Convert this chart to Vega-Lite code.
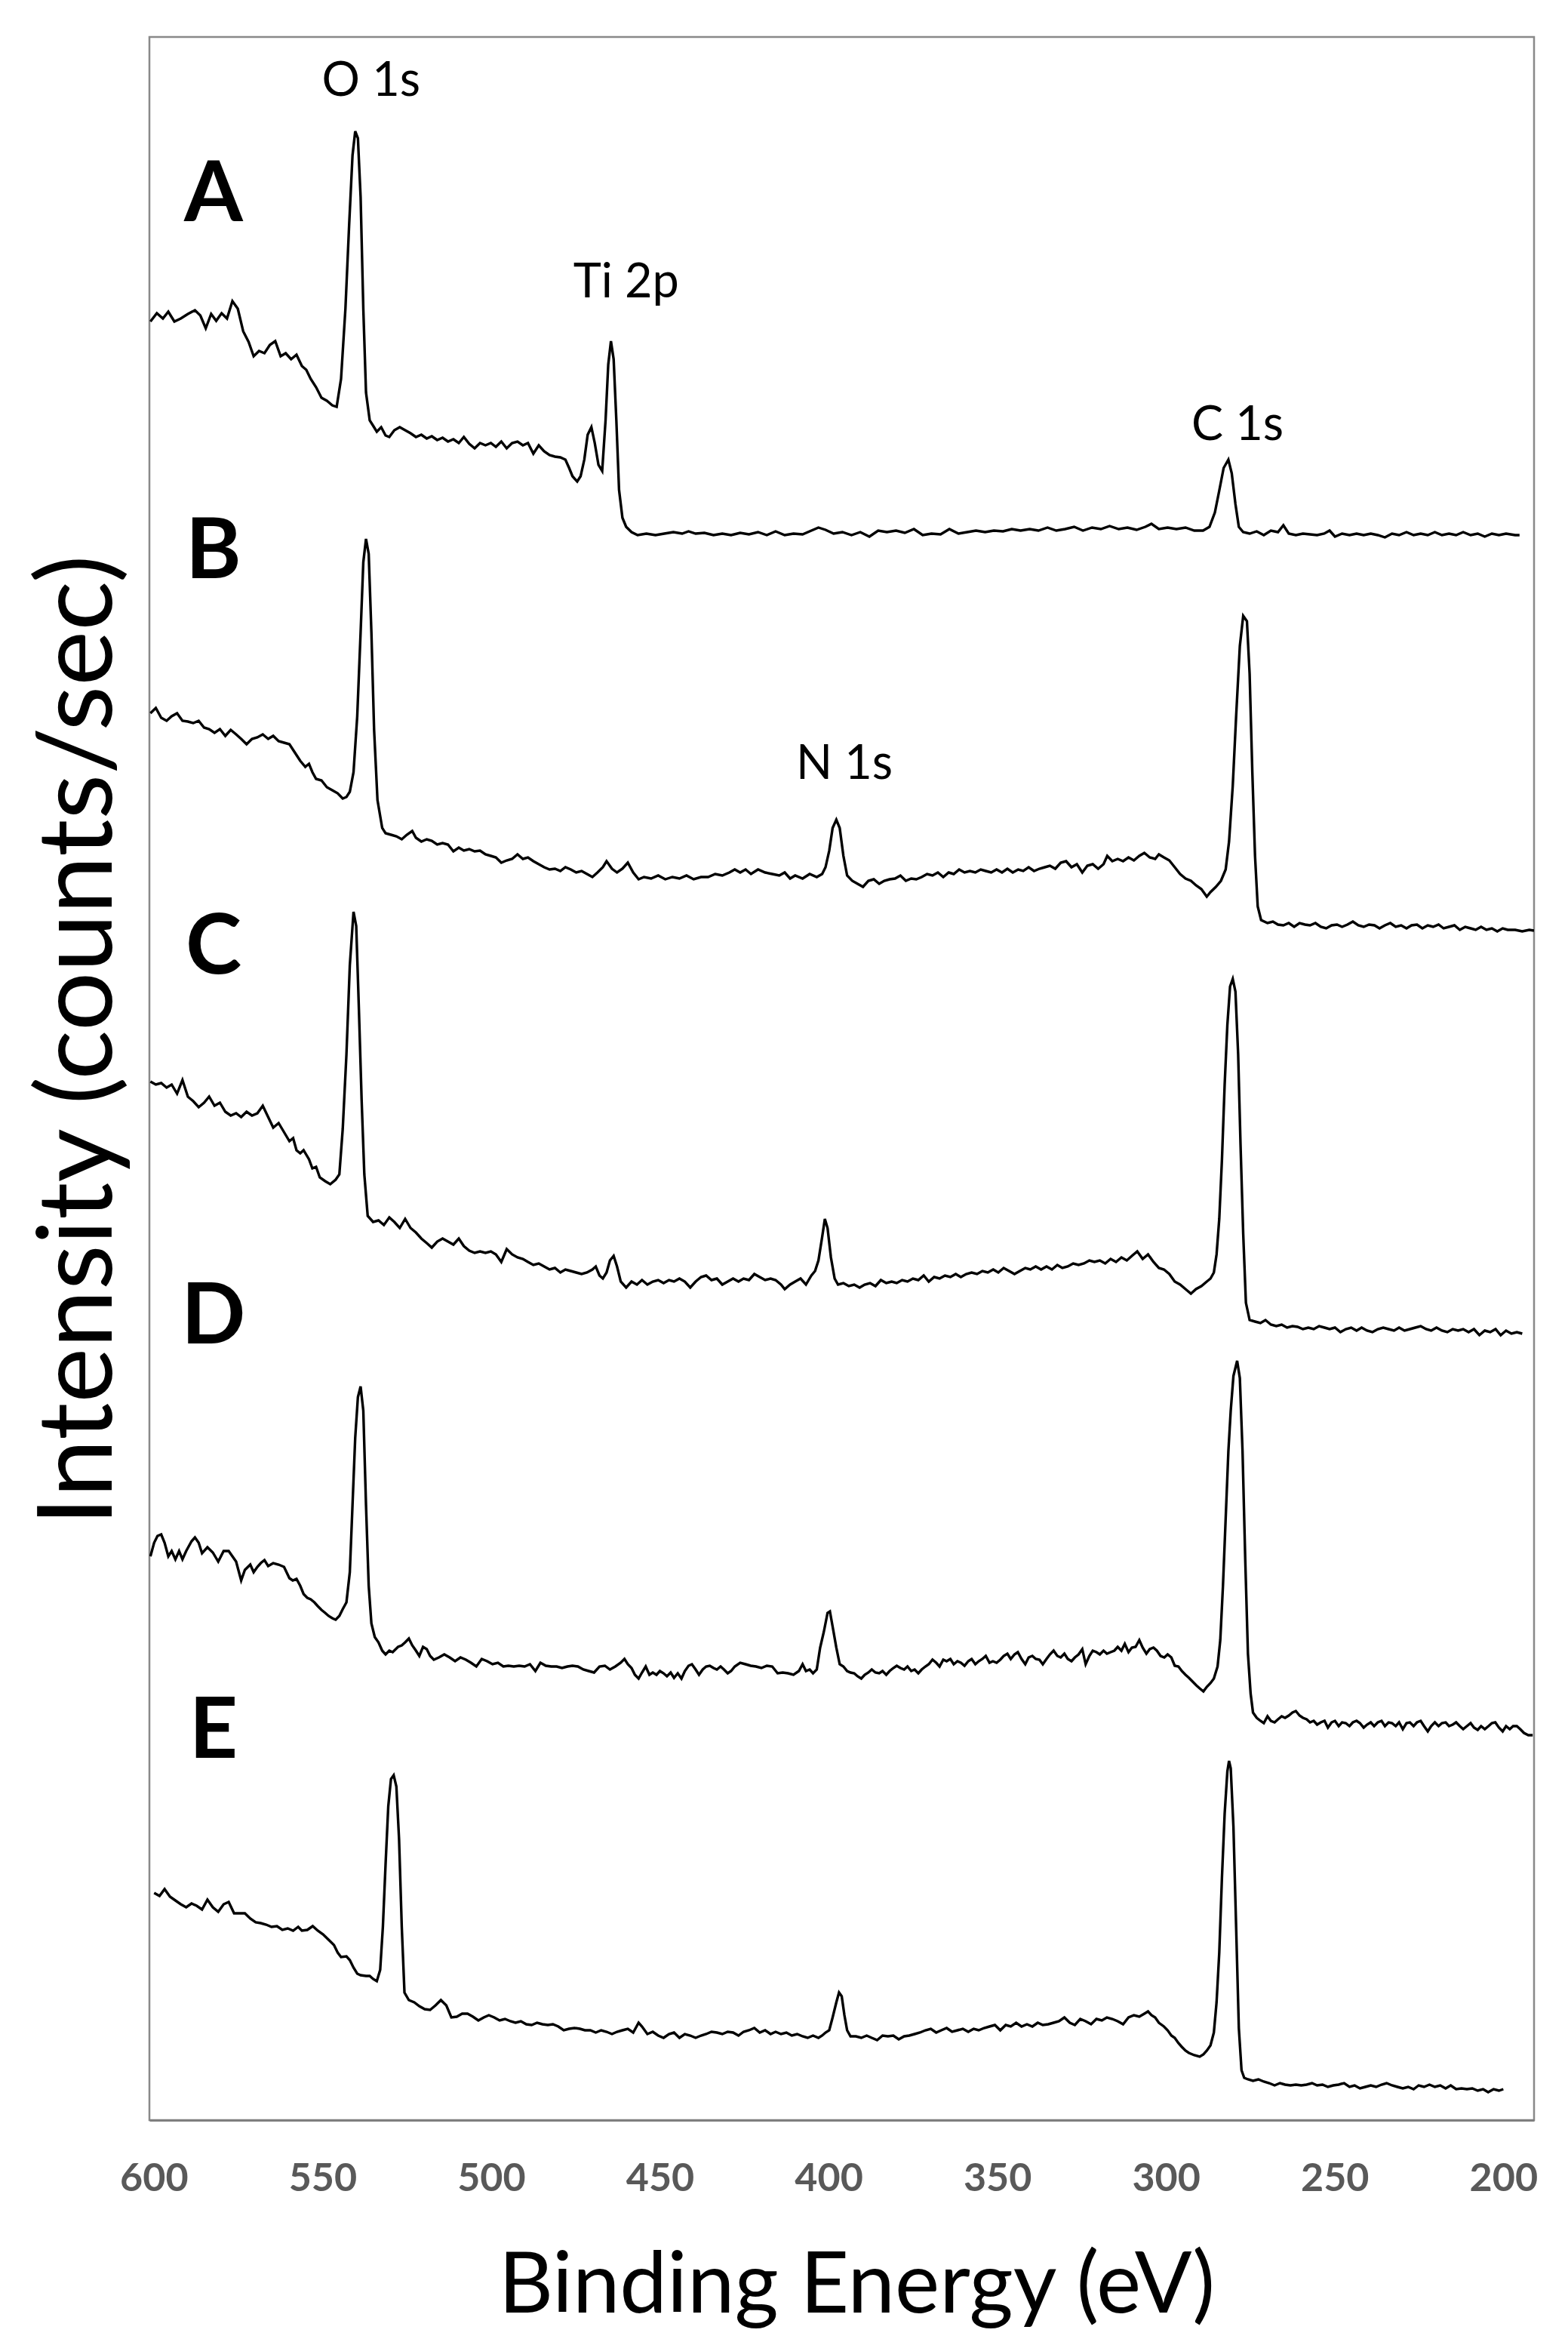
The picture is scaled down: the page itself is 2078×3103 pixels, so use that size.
{
"$schema":"https://vega.github.io/schema/vega-lite/v6.json",
"width":1835,"height":2760,
"autosize":{"type":"none"},
"padding":{"left":198,"top":49,"right":45,"bottom":294},
"background":"white",
"config":{"view":{"stroke":"#898989","strokeWidth":2.5},"font":"Lato"},
"datasets":{
"peaks":[{"t":"O 1s","e":535.6,"i":2679},{"t":"Ti 2p","e":460.0,"i":2412},{"t":"C 1s","e":278.8,"i":2223},{"t":"N 1s","e":395.3,"i":1774}],
"panels":[{"t":"A","e":582.3,"i":2513},{"t":"B","e":582.3,"i":2040},{"t":"C","e":582.3,"i":1516},{"t":"D","e":582.3,"i":1026},{"t":"E","e":582.3,"i":477}],
"spectra":[
{"s":"A","e":601.0,"i":2380},{"s":"A","e":599.1,"i":2391},{"s":"A","e":597.3,"i":2384},{"s":"A","e":595.7,"i":2393},{"s":"A","e":593.9,"i":2380},{"s":"A","e":592.0,"i":2384},{"s":"A","e":589.9,"i":2390},{"s":"A","e":587.8,"i":2395},{"s":"A","e":586.2,"i":2388},{"s":"A","e":584.6,"i":2371},{"s":"A","e":583.0,"i":2390},{"s":"A","e":581.5,"i":2381},{"s":"A","e":579.9,"i":2391},{"s":"A","e":578.3,"i":2384},{"s":"A","e":576.7,"i":2407},{"s":"A","e":575.1,"i":2397},{"s":"A","e":573.5,"i":2367},{"s":"A","e":571.9,"i":2353},{"s":"A","e":570.4,"i":2334},{"s":"A","e":568.8,"i":2341},{"s":"A","e":567.2,"i":2338},{"s":"A","e":565.6,"i":2349},{"s":"A","e":564.0,"i":2354},{"s":"A","e":562.4,"i":2334},{"s":"A","e":560.9,"i":2338},{"s":"A","e":559.3,"i":2330},{"s":"A","e":557.7,"i":2336},{"s":"A","e":556.1,"i":2321},{"s":"A","e":554.8,"i":2316},{"s":"A","e":553.5,"i":2304},{"s":"A","e":551.9,"i":2293},{"s":"A","e":550.3,"i":2279},{"s":"A","e":548.7,"i":2275},{"s":"A","e":547.1,"i":2269},{"s":"A","e":545.8,"i":2267},{"s":"A","e":544.5,"i":2304},{"s":"A","e":543.2,"i":2397},{"s":"A","e":542.1,"i":2508},{"s":"A","e":541.1,"i":2600},{"s":"A","e":540.3,"i":2632},{"s":"A","e":539.5,"i":2623},{"s":"A","e":538.7,"i":2545},{"s":"A","e":537.9,"i":2397},{"s":"A","e":537.1,"i":2286},{"s":"A","e":536.0,"i":2249},{"s":"A","e":535.0,"i":2242},{"s":"A","e":533.9,"i":2234},{"s":"A","e":532.6,"i":2240},{"s":"A","e":531.3,"i":2229},{"s":"A","e":530.2,"i":2227},{"s":"A","e":528.7,"i":2236},{"s":"A","e":527.1,"i":2240},{"s":"A","e":525.5,"i":2236},{"s":"A","e":523.9,"i":2232},{"s":"A","e":522.3,"i":2227},{"s":"A","e":520.7,"i":2230},{"s":"A","e":519.1,"i":2225},{"s":"A","e":517.6,"i":2228},{"s":"A","e":516.0,"i":2223},{"s":"A","e":514.4,"i":2226},{"s":"A","e":512.8,"i":2221},{"s":"A","e":511.2,"i":2224},{"s":"A","e":509.6,"i":2219},{"s":"A","e":508.1,"i":2227},{"s":"A","e":506.5,"i":2218},{"s":"A","e":504.9,"i":2212},{"s":"A","e":503.3,"i":2219},{"s":"A","e":501.7,"i":2216},{"s":"A","e":500.1,"i":2219},{"s":"A","e":498.6,"i":2214},{"s":"A","e":497.0,"i":2221},{"s":"A","e":495.4,"i":2212},{"s":"A","e":493.8,"i":2219},{"s":"A","e":492.2,"i":2221},{"s":"A","e":490.6,"i":2216},{"s":"A","e":489.1,"i":2219},{"s":"A","e":487.5,"i":2205},{"s":"A","e":485.9,"i":2216},{"s":"A","e":484.3,"i":2208},{"s":"A","e":482.7,"i":2203},{"s":"A","e":481.1,"i":2201},{"s":"A","e":479.5,"i":2200},{"s":"A","e":478.0,"i":2197},{"s":"A","e":476.9,"i":2186},{"s":"A","e":475.9,"i":2175},{"s":"A","e":474.5,"i":2168},{"s":"A","e":473.5,"i":2175},{"s":"A","e":472.4,"i":2197},{"s":"A","e":471.4,"i":2230},{"s":"A","e":470.3,"i":2240},{"s":"A","e":469.3,"i":2219},{"s":"A","e":468.2,"i":2190},{"s":"A","e":467.1,"i":2182},{"s":"A","e":466.1,"i":2249},{"s":"A","e":465.3,"i":2323},{"s":"A","e":464.5,"i":2354},{"s":"A","e":463.7,"i":2330},{"s":"A","e":462.9,"i":2249},{"s":"A","e":462.1,"i":2157},{"s":"A","e":461.1,"i":2120},{"s":"A","e":460.0,"i":2108},{"s":"A","e":458.4,"i":2101},{"s":"A","e":456.6,"i":2097},{"s":"A","e":454.0,"i":2099},{"s":"A","e":451.3,"i":2097},{"s":"A","e":448.7,"i":2099},{"s":"A","e":446.0,"i":2101},{"s":"A","e":443.4,"i":2099},{"s":"A","e":441.5,"i":2102},{"s":"A","e":439.4,"i":2099},{"s":"A","e":436.8,"i":2100},{"s":"A","e":434.1,"i":2097},{"s":"A","e":431.5,"i":2099},{"s":"A","e":428.9,"i":2097},{"s":"A","e":426.2,"i":2100},{"s":"A","e":423.6,"i":2098},{"s":"A","e":420.9,"i":2101},{"s":"A","e":418.3,"i":2097},{"s":"A","e":415.7,"i":2102},{"s":"A","e":413.0,"i":2097},{"s":"A","e":410.4,"i":2099},{"s":"A","e":407.7,"i":2098},{"s":"A","e":405.1,"i":2103},{"s":"A","e":403.0,"i":2107},{"s":"A","e":400.9,"i":2104},{"s":"A","e":398.5,"i":2099},{"s":"A","e":395.9,"i":2101},{"s":"A","e":393.2,"i":2097},{"s":"A","e":390.6,"i":2101},{"s":"A","e":387.9,"i":2095},{"s":"A","e":385.3,"i":2103},{"s":"A","e":382.7,"i":2101},{"s":"A","e":380.0,"i":2103},{"s":"A","e":377.4,"i":2100},{"s":"A","e":374.7,"i":2105},{"s":"A","e":372.1,"i":2097},{"s":"A","e":369.5,"i":2099},{"s":"A","e":366.8,"i":2098},{"s":"A","e":364.2,"i":2105},{"s":"A","e":361.5,"i":2099},{"s":"A","e":358.9,"i":2101},{"s":"A","e":356.3,"i":2103},{"s":"A","e":353.6,"i":2101},{"s":"A","e":351.0,"i":2103},{"s":"A","e":348.3,"i":2102},{"s":"A","e":345.7,"i":2105},{"s":"A","e":343.1,"i":2103},{"s":"A","e":340.4,"i":2105},{"s":"A","e":337.8,"i":2103},{"s":"A","e":335.1,"i":2107},{"s":"A","e":332.5,"i":2103},{"s":"A","e":329.9,"i":2105},{"s":"A","e":327.2,"i":2108},{"s":"A","e":324.6,"i":2103},{"s":"A","e":321.9,"i":2107},{"s":"A","e":319.3,"i":2105},{"s":"A","e":316.7,"i":2109},{"s":"A","e":314.0,"i":2105},{"s":"A","e":311.4,"i":2107},{"s":"A","e":308.7,"i":2104},{"s":"A","e":306.1,"i":2108},{"s":"A","e":304.3,"i":2112},{"s":"A","e":302.1,"i":2105},{"s":"A","e":299.5,"i":2107},{"s":"A","e":296.9,"i":2105},{"s":"A","e":294.2,"i":2107},{"s":"A","e":291.6,"i":2103},{"s":"A","e":289.0,"i":2103},{"s":"A","e":287.1,"i":2108},{"s":"A","e":285.5,"i":2127},{"s":"A","e":284.2,"i":2156},{"s":"A","e":282.9,"i":2186},{"s":"A","e":281.5,"i":2197},{"s":"A","e":280.5,"i":2179},{"s":"A","e":279.4,"i":2138},{"s":"A","e":278.4,"i":2108},{"s":"A","e":277.1,"i":2101},{"s":"A","e":275.2,"i":2099},{"s":"A","e":273.1,"i":2102},{"s":"A","e":271.0,"i":2097},{"s":"A","e":268.9,"i":2103},{"s":"A","e":266.8,"i":2101},{"s":"A","e":265.2,"i":2110},{"s":"A","e":263.6,"i":2099},{"s":"A","e":261.5,"i":2097},{"s":"A","e":259.4,"i":2099},{"s":"A","e":257.3,"i":2098},{"s":"A","e":255.2,"i":2097},{"s":"A","e":253.1,"i":2099},{"s":"A","e":251.5,"i":2103},{"s":"A","e":249.9,"i":2095},{"s":"A","e":247.8,"i":2099},{"s":"A","e":245.6,"i":2097},{"s":"A","e":243.5,"i":2099},{"s":"A","e":241.4,"i":2097},{"s":"A","e":239.3,"i":2099},{"s":"A","e":237.2,"i":2097},{"s":"A","e":235.1,"i":2094},{"s":"A","e":233.0,"i":2099},{"s":"A","e":230.9,"i":2097},{"s":"A","e":228.7,"i":2101},{"s":"A","e":226.6,"i":2097},{"s":"A","e":224.5,"i":2099},{"s":"A","e":222.4,"i":2097},{"s":"A","e":220.3,"i":2101},{"s":"A","e":218.2,"i":2097},{"s":"A","e":216.1,"i":2099},{"s":"A","e":214.0,"i":2097},{"s":"A","e":211.9,"i":2101},{"s":"A","e":209.7,"i":2097},{"s":"A","e":207.6,"i":2099},{"s":"A","e":205.5,"i":2095},{"s":"A","e":203.4,"i":2099},{"s":"A","e":201.3,"i":2097},{"s":"A","e":199.2,"i":2099},{"s":"A","e":196.5,"i":2097},{"s":"A","e":195.2,"i":2097},
{"s":"B","e":601.0,"i":1861},{"s":"B","e":599.4,"i":1868},{"s":"B","e":597.8,"i":1855},{"s":"B","e":596.2,"i":1851},{"s":"B","e":594.7,"i":1857},{"s":"B","e":593.1,"i":1861},{"s":"B","e":591.5,"i":1851},{"s":"B","e":589.9,"i":1850},{"s":"B","e":588.3,"i":1848},{"s":"B","e":586.7,"i":1851},{"s":"B","e":585.1,"i":1842},{"s":"B","e":583.6,"i":1840},{"s":"B","e":582.0,"i":1835},{"s":"B","e":580.4,"i":1840},{"s":"B","e":578.8,"i":1831},{"s":"B","e":577.2,"i":1839},{"s":"B","e":575.6,"i":1833},{"s":"B","e":574.1,"i":1827},{"s":"B","e":572.5,"i":1820},{"s":"B","e":570.9,"i":1827},{"s":"B","e":569.3,"i":1829},{"s":"B","e":567.7,"i":1833},{"s":"B","e":566.1,"i":1827},{"s":"B","e":564.6,"i":1831},{"s":"B","e":563.0,"i":1824},{"s":"B","e":561.4,"i":1822},{"s":"B","e":559.8,"i":1820},{"s":"B","e":558.2,"i":1809},{"s":"B","e":556.6,"i":1798},{"s":"B","e":555.1,"i":1790},{"s":"B","e":554.0,"i":1794},{"s":"B","e":553.0,"i":1783},{"s":"B","e":551.9,"i":1774},{"s":"B","e":550.3,"i":1772},{"s":"B","e":548.7,"i":1763},{"s":"B","e":547.1,"i":1759},{"s":"B","e":545.5,"i":1755},{"s":"B","e":544.0,"i":1748},{"s":"B","e":542.9,"i":1750},{"s":"B","e":541.9,"i":1757},{"s":"B","e":540.8,"i":1783},{"s":"B","e":539.7,"i":1857},{"s":"B","e":538.7,"i":1968},{"s":"B","e":537.9,"i":2061},{"s":"B","e":537.1,"i":2092},{"s":"B","e":536.3,"i":2072},{"s":"B","e":535.5,"i":1968},{"s":"B","e":534.7,"i":1839},{"s":"B","e":533.7,"i":1746},{"s":"B","e":532.3,"i":1709},{"s":"B","e":531.3,"i":1702},{"s":"B","e":529.7,"i":1700},{"s":"B","e":528.1,"i":1698},{"s":"B","e":526.5,"i":1694},{"s":"B","e":525.0,"i":1700},{"s":"B","e":523.4,"i":1705},{"s":"B","e":522.3,"i":1696},{"s":"B","e":520.7,"i":1691},{"s":"B","e":519.1,"i":1694},{"s":"B","e":517.6,"i":1692},{"s":"B","e":516.0,"i":1687},{"s":"B","e":514.4,"i":1689},{"s":"B","e":512.8,"i":1687},{"s":"B","e":511.2,"i":1678},{"s":"B","e":509.6,"i":1683},{"s":"B","e":508.1,"i":1679},{"s":"B","e":506.5,"i":1681},{"s":"B","e":504.9,"i":1678},{"s":"B","e":503.3,"i":1679},{"s":"B","e":501.7,"i":1674},{"s":"B","e":500.1,"i":1672},{"s":"B","e":498.6,"i":1670},{"s":"B","e":497.0,"i":1663},{"s":"B","e":495.4,"i":1666},{"s":"B","e":493.8,"i":1668},{"s":"B","e":492.2,"i":1674},{"s":"B","e":490.6,"i":1668},{"s":"B","e":489.1,"i":1670},{"s":"B","e":487.5,"i":1665},{"s":"B","e":485.9,"i":1661},{"s":"B","e":484.3,"i":1657},{"s":"B","e":482.7,"i":1654},{"s":"B","e":481.1,"i":1655},{"s":"B","e":479.5,"i":1652},{"s":"B","e":478.0,"i":1657},{"s":"B","e":476.4,"i":1654},{"s":"B","e":474.8,"i":1650},{"s":"B","e":473.2,"i":1652},{"s":"B","e":471.6,"i":1648},{"s":"B","e":470.0,"i":1644},{"s":"B","e":468.5,"i":1650},{"s":"B","e":466.9,"i":1657},{"s":"B","e":465.8,"i":1665},{"s":"B","e":464.2,"i":1655},{"s":"B","e":462.7,"i":1650},{"s":"B","e":461.1,"i":1655},{"s":"B","e":459.5,"i":1663},{"s":"B","e":457.9,"i":1650},{"s":"B","e":456.3,"i":1641},{"s":"B","e":454.7,"i":1644},{"s":"B","e":452.6,"i":1642},{"s":"B","e":450.5,"i":1646},{"s":"B","e":448.4,"i":1641},{"s":"B","e":446.3,"i":1644},{"s":"B","e":444.2,"i":1642},{"s":"B","e":442.1,"i":1646},{"s":"B","e":440.0,"i":1641},{"s":"B","e":437.8,"i":1644},{"s":"B","e":435.7,"i":1644},{"s":"B","e":433.6,"i":1648},{"s":"B","e":431.5,"i":1646},{"s":"B","e":429.4,"i":1650},{"s":"B","e":427.8,"i":1654},{"s":"B","e":426.2,"i":1650},{"s":"B","e":424.6,"i":1654},{"s":"B","e":423.0,"i":1648},{"s":"B","e":420.9,"i":1654},{"s":"B","e":418.8,"i":1650},{"s":"B","e":416.7,"i":1648},{"s":"B","e":414.6,"i":1646},{"s":"B","e":413.0,"i":1650},{"s":"B","e":411.4,"i":1642},{"s":"B","e":409.9,"i":1646},{"s":"B","e":407.7,"i":1642},{"s":"B","e":405.6,"i":1648},{"s":"B","e":403.5,"i":1644},{"s":"B","e":401.9,"i":1648},{"s":"B","e":400.9,"i":1657},{"s":"B","e":399.8,"i":1679},{"s":"B","e":398.8,"i":1709},{"s":"B","e":397.7,"i":1720},{"s":"B","e":396.7,"i":1709},{"s":"B","e":395.6,"i":1672},{"s":"B","e":394.5,"i":1646},{"s":"B","e":393.0,"i":1639},{"s":"B","e":391.4,"i":1635},{"s":"B","e":389.8,"i":1631},{"s":"B","e":388.2,"i":1639},{"s":"B","e":386.6,"i":1641},{"s":"B","e":385.0,"i":1635},{"s":"B","e":383.5,"i":1639},{"s":"B","e":381.9,"i":1641},{"s":"B","e":380.3,"i":1642},{"s":"B","e":378.7,"i":1646},{"s":"B","e":377.1,"i":1639},{"s":"B","e":375.5,"i":1642},{"s":"B","e":374.0,"i":1641},{"s":"B","e":372.4,"i":1644},{"s":"B","e":370.8,"i":1648},{"s":"B","e":369.2,"i":1646},{"s":"B","e":367.6,"i":1650},{"s":"B","e":366.0,"i":1644},{"s":"B","e":364.4,"i":1650},{"s":"B","e":362.9,"i":1648},{"s":"B","e":361.3,"i":1654},{"s":"B","e":359.7,"i":1650},{"s":"B","e":358.1,"i":1652},{"s":"B","e":356.5,"i":1650},{"s":"B","e":354.9,"i":1654},{"s":"B","e":353.4,"i":1652},{"s":"B","e":351.8,"i":1650},{"s":"B","e":350.2,"i":1654},{"s":"B","e":348.6,"i":1650},{"s":"B","e":347.0,"i":1655},{"s":"B","e":345.4,"i":1650},{"s":"B","e":343.8,"i":1654},{"s":"B","e":342.3,"i":1652},{"s":"B","e":340.7,"i":1657},{"s":"B","e":339.1,"i":1652},{"s":"B","e":337.5,"i":1655},{"s":"B","e":335.9,"i":1657},{"s":"B","e":334.4,"i":1659},{"s":"B","e":332.8,"i":1655},{"s":"B","e":331.2,"i":1663},{"s":"B","e":329.6,"i":1665},{"s":"B","e":328.0,"i":1657},{"s":"B","e":326.4,"i":1661},{"s":"B","e":324.8,"i":1650},{"s":"B","e":323.3,"i":1659},{"s":"B","e":321.7,"i":1661},{"s":"B","e":320.1,"i":1655},{"s":"B","e":318.5,"i":1661},{"s":"B","e":317.4,"i":1672},{"s":"B","e":315.9,"i":1665},{"s":"B","e":314.3,"i":1668},{"s":"B","e":312.7,"i":1665},{"s":"B","e":311.1,"i":1670},{"s":"B","e":309.5,"i":1666},{"s":"B","e":307.9,"i":1672},{"s":"B","e":306.4,"i":1676},{"s":"B","e":304.8,"i":1670},{"s":"B","e":303.2,"i":1668},{"s":"B","e":302.1,"i":1674},{"s":"B","e":300.6,"i":1670},{"s":"B","e":299.0,"i":1666},{"s":"B","e":297.4,"i":1657},{"s":"B","e":295.8,"i":1648},{"s":"B","e":294.2,"i":1642},{"s":"B","e":292.6,"i":1639},{"s":"B","e":291.1,"i":1633},{"s":"B","e":289.5,"i":1628},{"s":"B","e":287.9,"i":1618},{"s":"B","e":286.8,"i":1624},{"s":"B","e":285.2,"i":1631},{"s":"B","e":283.7,"i":1639},{"s":"B","e":282.3,"i":1654},{"s":"B","e":281.3,"i":1691},{"s":"B","e":280.2,"i":1765},{"s":"B","e":279.2,"i":1857},{"s":"B","e":278.1,"i":1950},{"s":"B","e":277.1,"i":1990},{"s":"B","e":276.0,"i":1983},{"s":"B","e":275.2,"i":1913},{"s":"B","e":274.4,"i":1783},{"s":"B","e":273.6,"i":1672},{"s":"B","e":272.8,"i":1605},{"s":"B","e":271.8,"i":1587},{"s":"B","e":269.9,"i":1583},{"s":"B","e":268.3,"i":1585},{"s":"B","e":266.8,"i":1581},{"s":"B","e":265.2,"i":1580},{"s":"B","e":263.6,"i":1583},{"s":"B","e":262.0,"i":1578},{"s":"B","e":260.4,"i":1583},{"s":"B","e":258.8,"i":1581},{"s":"B","e":257.3,"i":1580},{"s":"B","e":255.7,"i":1583},{"s":"B","e":254.1,"i":1578},{"s":"B","e":252.5,"i":1576},{"s":"B","e":250.9,"i":1580},{"s":"B","e":249.3,"i":1581},{"s":"B","e":247.8,"i":1578},{"s":"B","e":246.2,"i":1581},{"s":"B","e":244.6,"i":1585},{"s":"B","e":243.0,"i":1580},{"s":"B","e":241.4,"i":1578},{"s":"B","e":239.8,"i":1581},{"s":"B","e":238.2,"i":1580},{"s":"B","e":236.7,"i":1576},{"s":"B","e":235.1,"i":1580},{"s":"B","e":233.5,"i":1583},{"s":"B","e":231.9,"i":1578},{"s":"B","e":230.3,"i":1580},{"s":"B","e":228.7,"i":1576},{"s":"B","e":227.2,"i":1580},{"s":"B","e":225.6,"i":1581},{"s":"B","e":224.0,"i":1576},{"s":"B","e":222.4,"i":1580},{"s":"B","e":220.8,"i":1578},{"s":"B","e":219.2,"i":1581},{"s":"B","e":217.7,"i":1576},{"s":"B","e":216.1,"i":1578},{"s":"B","e":214.5,"i":1580},{"s":"B","e":212.9,"i":1574},{"s":"B","e":211.3,"i":1578},{"s":"B","e":209.7,"i":1576},{"s":"B","e":208.2,"i":1574},{"s":"B","e":206.6,"i":1578},{"s":"B","e":205.0,"i":1574},{"s":"B","e":203.4,"i":1576},{"s":"B","e":201.8,"i":1572},{"s":"B","e":200.2,"i":1576},{"s":"B","e":198.7,"i":1574},{"s":"B","e":196.5,"i":1574},{"s":"B","e":194.4,"i":1572},{"s":"B","e":192.3,"i":1574},{"s":"B","e":190.9,"i":1573},
{"s":"C","e":601.0,"i":1373},{"s":"C","e":599.4,"i":1369},{"s":"C","e":597.8,"i":1371},{"s":"C","e":596.2,"i":1365},{"s":"C","e":594.7,"i":1369},{"s":"C","e":593.1,"i":1357},{"s":"C","e":591.5,"i":1375},{"s":"C","e":589.9,"i":1353},{"s":"C","e":588.3,"i":1347},{"s":"C","e":586.7,"i":1339},{"s":"C","e":585.1,"i":1345},{"s":"C","e":583.6,"i":1353},{"s":"C","e":582.0,"i":1341},{"s":"C","e":580.4,"i":1345},{"s":"C","e":578.8,"i":1333},{"s":"C","e":577.2,"i":1328},{"s":"C","e":575.6,"i":1331},{"s":"C","e":574.1,"i":1326},{"s":"C","e":572.5,"i":1333},{"s":"C","e":570.9,"i":1328},{"s":"C","e":569.3,"i":1331},{"s":"C","e":567.7,"i":1341},{"s":"C","e":566.1,"i":1326},{"s":"C","e":564.6,"i":1312},{"s":"C","e":563.0,"i":1318},{"s":"C","e":561.4,"i":1306},{"s":"C","e":559.8,"i":1294},{"s":"C","e":558.7,"i":1298},{"s":"C","e":557.7,"i":1282},{"s":"C","e":556.6,"i":1278},{"s":"C","e":555.6,"i":1282},{"s":"C","e":554.0,"i":1270},{"s":"C","e":553.0,"i":1258},{"s":"C","e":551.9,"i":1260},{"s":"C","e":550.8,"i":1246},{"s":"C","e":549.2,"i":1241},{"s":"C","e":547.7,"i":1237},{"s":"C","e":546.1,"i":1243},{"s":"C","e":545.0,"i":1250},{"s":"C","e":544.0,"i":1310},{"s":"C","e":542.9,"i":1409},{"s":"C","e":541.9,"i":1527},{"s":"C","e":540.8,"i":1598},{"s":"C","e":540.0,"i":1579},{"s":"C","e":539.2,"i":1468},{"s":"C","e":538.4,"i":1349},{"s":"C","e":537.6,"i":1250},{"s":"C","e":536.6,"i":1195},{"s":"C","e":535.0,"i":1187},{"s":"C","e":533.4,"i":1189},{"s":"C","e":531.8,"i":1183},{"s":"C","e":530.2,"i":1193},{"s":"C","e":528.7,"i":1187},{"s":"C","e":527.1,"i":1179},{"s":"C","e":525.5,"i":1191},{"s":"C","e":523.9,"i":1179},{"s":"C","e":522.3,"i":1173},{"s":"C","e":520.7,"i":1165},{"s":"C","e":519.1,"i":1159},{"s":"C","e":517.6,"i":1153},{"s":"C","e":516.0,"i":1161},{"s":"C","e":514.4,"i":1165},{"s":"C","e":512.8,"i":1161},{"s":"C","e":511.2,"i":1157},{"s":"C","e":509.6,"i":1165},{"s":"C","e":508.1,"i":1155},{"s":"C","e":506.5,"i":1149},{"s":"C","e":504.9,"i":1146},{"s":"C","e":503.3,"i":1148},{"s":"C","e":501.7,"i":1146},{"s":"C","e":500.1,"i":1148},{"s":"C","e":498.6,"i":1144},{"s":"C","e":497.0,"i":1134},{"s":"C","e":495.4,"i":1151},{"s":"C","e":493.8,"i":1144},{"s":"C","e":492.2,"i":1140},{"s":"C","e":490.6,"i":1138},{"s":"C","e":489.1,"i":1134},{"s":"C","e":487.5,"i":1130},{"s":"C","e":485.9,"i":1132},{"s":"C","e":484.3,"i":1128},{"s":"C","e":482.7,"i":1124},{"s":"C","e":481.1,"i":1126},{"s":"C","e":479.5,"i":1120},{"s":"C","e":478.0,"i":1124},{"s":"C","e":476.4,"i":1122},{"s":"C","e":474.8,"i":1120},{"s":"C","e":473.2,"i":1118},{"s":"C","e":471.6,"i":1120},{"s":"C","e":470.0,"i":1124},{"s":"C","e":469.0,"i":1128},{"s":"C","e":467.9,"i":1116},{"s":"C","e":466.9,"i":1112},{"s":"C","e":465.8,"i":1120},{"s":"C","e":464.8,"i":1136},{"s":"C","e":463.7,"i":1142},{"s":"C","e":462.7,"i":1128},{"s":"C","e":461.6,"i":1108},{"s":"C","e":460.0,"i":1100},{"s":"C","e":458.4,"i":1108},{"s":"C","e":456.8,"i":1104},{"s":"C","e":455.3,"i":1110},{"s":"C","e":453.7,"i":1104},{"s":"C","e":452.1,"i":1108},{"s":"C","e":450.5,"i":1110},{"s":"C","e":448.9,"i":1106},{"s":"C","e":447.3,"i":1110},{"s":"C","e":445.8,"i":1108},{"s":"C","e":444.2,"i":1112},{"s":"C","e":442.6,"i":1108},{"s":"C","e":441.0,"i":1100},{"s":"C","e":439.4,"i":1108},{"s":"C","e":437.8,"i":1114},{"s":"C","e":436.3,"i":1116},{"s":"C","e":434.7,"i":1110},{"s":"C","e":433.1,"i":1112},{"s":"C","e":431.5,"i":1104},{"s":"C","e":429.9,"i":1108},{"s":"C","e":428.3,"i":1112},{"s":"C","e":426.7,"i":1108},{"s":"C","e":425.2,"i":1112},{"s":"C","e":423.6,"i":1110},{"s":"C","e":422.0,"i":1118},{"s":"C","e":420.4,"i":1114},{"s":"C","e":418.8,"i":1110},{"s":"C","e":417.2,"i":1112},{"s":"C","e":415.7,"i":1110},{"s":"C","e":414.1,"i":1104},{"s":"C","e":413.0,"i":1098},{"s":"C","e":411.4,"i":1104},{"s":"C","e":409.9,"i":1108},{"s":"C","e":408.3,"i":1112},{"s":"C","e":406.7,"i":1104},{"s":"C","e":405.1,"i":1116},{"s":"C","e":404.0,"i":1122},{"s":"C","e":403.0,"i":1136},{"s":"C","e":401.9,"i":1167},{"s":"C","e":401.1,"i":1191},{"s":"C","e":400.3,"i":1179},{"s":"C","e":399.3,"i":1140},{"s":"C","e":398.2,"i":1112},{"s":"C","e":397.2,"i":1104},{"s":"C","e":395.6,"i":1106},{"s":"C","e":394.0,"i":1102},{"s":"C","e":392.4,"i":1104},{"s":"C","e":390.8,"i":1100},{"s":"C","e":389.3,"i":1104},{"s":"C","e":387.7,"i":1106},{"s":"C","e":386.1,"i":1102},{"s":"C","e":384.5,"i":1110},{"s":"C","e":382.9,"i":1106},{"s":"C","e":381.3,"i":1108},{"s":"C","e":379.8,"i":1106},{"s":"C","e":378.2,"i":1110},{"s":"C","e":376.6,"i":1108},{"s":"C","e":375.0,"i":1112},{"s":"C","e":373.4,"i":1110},{"s":"C","e":371.8,"i":1116},{"s":"C","e":370.3,"i":1108},{"s":"C","e":368.7,"i":1114},{"s":"C","e":367.1,"i":1112},{"s":"C","e":365.5,"i":1116},{"s":"C","e":363.9,"i":1114},{"s":"C","e":362.3,"i":1118},{"s":"C","e":360.8,"i":1114},{"s":"C","e":359.2,"i":1118},{"s":"C","e":357.6,"i":1120},{"s":"C","e":356.0,"i":1118},{"s":"C","e":354.4,"i":1122},{"s":"C","e":352.8,"i":1120},{"s":"C","e":351.2,"i":1124},{"s":"C","e":349.7,"i":1120},{"s":"C","e":348.1,"i":1126},{"s":"C","e":346.5,"i":1122},{"s":"C","e":344.9,"i":1118},{"s":"C","e":343.3,"i":1122},{"s":"C","e":341.7,"i":1126},{"s":"C","e":340.2,"i":1124},{"s":"C","e":338.6,"i":1128},{"s":"C","e":337.0,"i":1124},{"s":"C","e":335.4,"i":1128},{"s":"C","e":333.8,"i":1124},{"s":"C","e":332.2,"i":1130},{"s":"C","e":330.7,"i":1126},{"s":"C","e":329.1,"i":1128},{"s":"C","e":327.5,"i":1132},{"s":"C","e":325.9,"i":1130},{"s":"C","e":324.3,"i":1132},{"s":"C","e":322.7,"i":1136},{"s":"C","e":321.2,"i":1134},{"s":"C","e":319.6,"i":1136},{"s":"C","e":318.0,"i":1132},{"s":"C","e":316.4,"i":1138},{"s":"C","e":314.8,"i":1134},{"s":"C","e":313.2,"i":1140},{"s":"C","e":311.6,"i":1136},{"s":"C","e":310.1,"i":1142},{"s":"C","e":308.5,"i":1148},{"s":"C","e":306.9,"i":1138},{"s":"C","e":305.3,"i":1144},{"s":"C","e":303.7,"i":1134},{"s":"C","e":302.1,"i":1126},{"s":"C","e":300.6,"i":1124},{"s":"C","e":299.0,"i":1118},{"s":"C","e":297.4,"i":1108},{"s":"C","e":295.8,"i":1104},{"s":"C","e":294.2,"i":1098},{"s":"C","e":292.6,"i":1092},{"s":"C","e":291.1,"i":1098},{"s":"C","e":289.5,"i":1102},{"s":"C","e":287.9,"i":1108},{"s":"C","e":286.8,"i":1112},{"s":"C","e":285.8,"i":1120},{"s":"C","e":285.0,"i":1144},{"s":"C","e":284.2,"i":1191},{"s":"C","e":283.4,"i":1270},{"s":"C","e":282.6,"i":1369},{"s":"C","e":281.8,"i":1448},{"s":"C","e":281.0,"i":1499},{"s":"C","e":280.2,"i":1509},{"s":"C","e":279.4,"i":1492},{"s":"C","e":278.6,"i":1409},{"s":"C","e":277.9,"i":1290},{"s":"C","e":277.1,"i":1171},{"s":"C","e":276.3,"i":1080},{"s":"C","e":275.2,"i":1057},{"s":"C","e":273.6,"i":1055},{"s":"C","e":272.0,"i":1053},{"s":"C","e":270.5,"i":1057},{"s":"C","e":268.9,"i":1051},{"s":"C","e":267.3,"i":1049},{"s":"C","e":265.7,"i":1051},{"s":"C","e":264.1,"i":1047},{"s":"C","e":262.5,"i":1049},{"s":"C","e":261.0,"i":1048},{"s":"C","e":259.4,"i":1045},{"s":"C","e":257.8,"i":1047},{"s":"C","e":256.2,"i":1045},{"s":"C","e":254.6,"i":1049},{"s":"C","e":253.0,"i":1047},{"s":"C","e":251.5,"i":1045},{"s":"C","e":249.9,"i":1047},{"s":"C","e":248.3,"i":1041},{"s":"C","e":246.7,"i":1045},{"s":"C","e":245.1,"i":1047},{"s":"C","e":243.5,"i":1043},{"s":"C","e":242.0,"i":1047},{"s":"C","e":240.4,"i":1043},{"s":"C","e":238.8,"i":1041},{"s":"C","e":237.2,"i":1045},{"s":"C","e":235.6,"i":1047},{"s":"C","e":234.0,"i":1045},{"s":"C","e":232.4,"i":1043},{"s":"C","e":230.9,"i":1047},{"s":"C","e":229.3,"i":1043},{"s":"C","e":227.7,"i":1045},{"s":"C","e":226.1,"i":1047},{"s":"C","e":224.5,"i":1049},{"s":"C","e":222.9,"i":1045},{"s":"C","e":221.4,"i":1043},{"s":"C","e":219.8,"i":1047},{"s":"C","e":218.2,"i":1043},{"s":"C","e":216.6,"i":1041},{"s":"C","e":215.0,"i":1045},{"s":"C","e":213.4,"i":1043},{"s":"C","e":211.9,"i":1045},{"s":"C","e":210.3,"i":1041},{"s":"C","e":208.7,"i":1045},{"s":"C","e":207.1,"i":1037},{"s":"C","e":205.5,"i":1043},{"s":"C","e":203.9,"i":1041},{"s":"C","e":202.3,"i":1045},{"s":"C","e":200.8,"i":1037},{"s":"C","e":199.2,"i":1043},{"s":"C","e":197.6,"i":1039},{"s":"C","e":196.0,"i":1041},{"s":"C","e":194.4,"i":1039},
{"s":"D","e":601.0,"i":744},{"s":"D","e":599.9,"i":762},{"s":"D","e":598.9,"i":771},{"s":"D","e":597.8,"i":773},{"s":"D","e":596.8,"i":762},{"s":"D","e":595.7,"i":744},{"s":"D","e":594.7,"i":751},{"s":"D","e":593.6,"i":740},{"s":"D","e":592.5,"i":751},{"s":"D","e":591.5,"i":740},{"s":"D","e":590.4,"i":751},{"s":"D","e":588.8,"i":764},{"s":"D","e":587.8,"i":769},{"s":"D","e":586.7,"i":762},{"s":"D","e":585.7,"i":748},{"s":"D","e":584.1,"i":756},{"s":"D","e":582.5,"i":749},{"s":"D","e":580.9,"i":737},{"s":"D","e":579.3,"i":751},{"s":"D","e":577.8,"i":751},{"s":"D","e":576.7,"i":744},{"s":"D","e":575.6,"i":737},{"s":"D","e":574.1,"i":712},{"s":"D","e":573.0,"i":726},{"s":"D","e":571.4,"i":733},{"s":"D","e":570.4,"i":723},{"s":"D","e":569.3,"i":730},{"s":"D","e":568.3,"i":735},{"s":"D","e":567.2,"i":739},{"s":"D","e":566.1,"i":731},{"s":"D","e":564.6,"i":735},{"s":"D","e":563.0,"i":733},{"s":"D","e":561.4,"i":730},{"s":"D","e":559.8,"i":715},{"s":"D","e":558.8,"i":712},{"s":"D","e":557.7,"i":714},{"s":"D","e":556.6,"i":705},{"s":"D","e":555.6,"i":694},{"s":"D","e":554.5,"i":689},{"s":"D","e":553.5,"i":687},{"s":"D","e":552.4,"i":683},{"s":"D","e":551.4,"i":678},{"s":"D","e":550.3,"i":673},{"s":"D","e":549.2,"i":669},{"s":"D","e":548.2,"i":665},{"s":"D","e":547.1,"i":662},{"s":"D","e":546.1,"i":660},{"s":"D","e":545.0,"i":665},{"s":"D","e":544.0,"i":674},{"s":"D","e":542.9,"i":683},{"s":"D","e":541.9,"i":723},{"s":"D","e":541.1,"i":812},{"s":"D","e":540.3,"i":901},{"s":"D","e":539.5,"i":955},{"s":"D","e":538.7,"i":969},{"s":"D","e":537.9,"i":937},{"s":"D","e":537.1,"i":812},{"s":"D","e":536.3,"i":705},{"s":"D","e":535.5,"i":655},{"s":"D","e":534.5,"i":637},{"s":"D","e":533.4,"i":630},{"s":"D","e":532.3,"i":619},{"s":"D","e":531.3,"i":614},{"s":"D","e":530.2,"i":619},{"s":"D","e":529.2,"i":617},{"s":"D","e":527.6,"i":624},{"s":"D","e":526.5,"i":626},{"s":"D","e":525.5,"i":630},{"s":"D","e":524.4,"i":635},{"s":"D","e":523.4,"i":626},{"s":"D","e":522.3,"i":619},{"s":"D","e":521.3,"i":612},{"s":"D","e":520.2,"i":624},{"s":"D","e":519.1,"i":621},{"s":"D","e":518.1,"i":612},{"s":"D","e":517.0,"i":607},{"s":"D","e":515.5,"i":610},{"s":"D","e":513.9,"i":614},{"s":"D","e":512.3,"i":610},{"s":"D","e":510.7,"i":605},{"s":"D","e":509.1,"i":610},{"s":"D","e":507.5,"i":607},{"s":"D","e":506.0,"i":603},{"s":"D","e":504.4,"i":598},{"s":"D","e":502.8,"i":608},{"s":"D","e":501.2,"i":605},{"s":"D","e":499.6,"i":601},{"s":"D","e":498.0,"i":603},{"s":"D","e":496.4,"i":598},{"s":"D","e":494.9,"i":599},{"s":"D","e":493.3,"i":598},{"s":"D","e":491.7,"i":599},{"s":"D","e":490.1,"i":598},{"s":"D","e":488.5,"i":601},{"s":"D","e":486.9,"i":592},{"s":"D","e":485.4,"i":603},{"s":"D","e":483.8,"i":599},{"s":"D","e":482.2,"i":598},{"s":"D","e":480.6,"i":598},{"s":"D","e":479.0,"i":596},{"s":"D","e":477.4,"i":598},{"s":"D","e":475.9,"i":599},{"s":"D","e":474.3,"i":598},{"s":"D","e":472.7,"i":594},{"s":"D","e":471.1,"i":592},{"s":"D","e":469.5,"i":590},{"s":"D","e":467.9,"i":598},{"s":"D","e":466.3,"i":599},{"s":"D","e":464.8,"i":594},{"s":"D","e":463.2,"i":598},{"s":"D","e":461.6,"i":603},{"s":"D","e":460.5,"i":608},{"s":"D","e":459.5,"i":601},{"s":"D","e":458.4,"i":596},{"s":"D","e":457.4,"i":587},{"s":"D","e":456.3,"i":582},{"s":"D","e":455.3,"i":590},{"s":"D","e":454.2,"i":598},{"s":"D","e":453.1,"i":587},{"s":"D","e":452.1,"i":590},{"s":"D","e":451.0,"i":587},{"s":"D","e":450.0,"i":592},{"s":"D","e":448.9,"i":589},{"s":"D","e":447.9,"i":585},{"s":"D","e":446.8,"i":590},{"s":"D","e":445.8,"i":583},{"s":"D","e":444.7,"i":589},{"s":"D","e":443.6,"i":582},{"s":"D","e":442.6,"i":592},{"s":"D","e":441.5,"i":599},{"s":"D","e":440.5,"i":601},{"s":"D","e":439.4,"i":594},{"s":"D","e":438.4,"i":587},{"s":"D","e":437.3,"i":594},{"s":"D","e":436.3,"i":598},{"s":"D","e":435.2,"i":599},{"s":"D","e":434.1,"i":596},{"s":"D","e":433.1,"i":594},{"s":"D","e":432.0,"i":598},{"s":"D","e":431.0,"i":594},{"s":"D","e":429.9,"i":589},{"s":"D","e":428.9,"i":592},{"s":"D","e":427.8,"i":598},{"s":"D","e":426.2,"i":603},{"s":"D","e":424.6,"i":601},{"s":"D","e":423.1,"i":599},{"s":"D","e":421.5,"i":598},{"s":"D","e":419.9,"i":596},{"s":"D","e":418.3,"i":599},{"s":"D","e":416.7,"i":598},{"s":"D","e":415.1,"i":589},{"s":"D","e":413.6,"i":590},{"s":"D","e":412.0,"i":589},{"s":"D","e":410.4,"i":587},{"s":"D","e":408.8,"i":592},{"s":"D","e":407.7,"i":601},{"s":"D","e":406.7,"i":592},{"s":"D","e":405.6,"i":594},{"s":"D","e":404.6,"i":589},{"s":"D","e":403.5,"i":594},{"s":"D","e":402.5,"i":623},{"s":"D","e":401.4,"i":644},{"s":"D","e":400.3,"i":669},{"s":"D","e":399.6,"i":671},{"s":"D","e":398.8,"i":651},{"s":"D","e":397.7,"i":623},{"s":"D","e":396.7,"i":601},{"s":"D","e":395.6,"i":598},{"s":"D","e":394.5,"i":592},{"s":"D","e":393.5,"i":590},{"s":"D","e":392.4,"i":589},{"s":"D","e":391.4,"i":585},{"s":"D","e":390.3,"i":582},{"s":"D","e":389.3,"i":587},{"s":"D","e":388.2,"i":590},{"s":"D","e":387.2,"i":594},{"s":"D","e":386.1,"i":590},{"s":"D","e":385.0,"i":589},{"s":"D","e":384.0,"i":592},{"s":"D","e":382.9,"i":587},{"s":"D","e":381.9,"i":592},{"s":"D","e":380.8,"i":596},{"s":"D","e":379.8,"i":599},{"s":"D","e":378.7,"i":596},{"s":"D","e":377.6,"i":594},{"s":"D","e":376.6,"i":598},{"s":"D","e":375.5,"i":592},{"s":"D","e":374.5,"i":594},{"s":"D","e":373.4,"i":589},{"s":"D","e":372.4,"i":594},{"s":"D","e":371.3,"i":598},{"s":"D","e":370.3,"i":601},{"s":"D","e":369.2,"i":607},{"s":"D","e":368.1,"i":603},{"s":"D","e":367.1,"i":598},{"s":"D","e":366.0,"i":607},{"s":"D","e":365.0,"i":605},{"s":"D","e":363.9,"i":608},{"s":"D","e":362.9,"i":601},{"s":"D","e":361.8,"i":605},{"s":"D","e":360.8,"i":603},{"s":"D","e":359.7,"i":599},{"s":"D","e":358.6,"i":605},{"s":"D","e":357.6,"i":608},{"s":"D","e":356.5,"i":601},{"s":"D","e":355.5,"i":605},{"s":"D","e":354.4,"i":608},{"s":"D","e":353.4,"i":612},{"s":"D","e":352.3,"i":603},{"s":"D","e":351.3,"i":605},{"s":"D","e":350.2,"i":603},{"s":"D","e":349.1,"i":607},{"s":"D","e":348.1,"i":612},{"s":"D","e":347.0,"i":615},{"s":"D","e":346.0,"i":608},{"s":"D","e":344.9,"i":614},{"s":"D","e":343.9,"i":617},{"s":"D","e":342.8,"i":608},{"s":"D","e":341.7,"i":601},{"s":"D","e":340.7,"i":610},{"s":"D","e":339.6,"i":612},{"s":"D","e":338.6,"i":608},{"s":"D","e":337.5,"i":607},{"s":"D","e":336.5,"i":601},{"s":"D","e":335.4,"i":608},{"s":"D","e":334.4,"i":614},{"s":"D","e":333.3,"i":619},{"s":"D","e":332.2,"i":612},{"s":"D","e":331.2,"i":610},{"s":"D","e":330.1,"i":615},{"s":"D","e":329.1,"i":608},{"s":"D","e":328.0,"i":605},{"s":"D","e":327.0,"i":610},{"s":"D","e":325.9,"i":614},{"s":"D","e":324.8,"i":621},{"s":"D","e":323.8,"i":601},{"s":"D","e":322.7,"i":612},{"s":"D","e":321.7,"i":619},{"s":"D","e":320.6,"i":617},{"s":"D","e":319.6,"i":614},{"s":"D","e":318.5,"i":619},{"s":"D","e":317.5,"i":615},{"s":"D","e":316.4,"i":617},{"s":"D","e":315.3,"i":619},{"s":"D","e":314.3,"i":624},{"s":"D","e":313.2,"i":619},{"s":"D","e":312.2,"i":628},{"s":"D","e":311.1,"i":617},{"s":"D","e":310.1,"i":623},{"s":"D","e":309.0,"i":624},{"s":"D","e":307.9,"i":633},{"s":"D","e":306.9,"i":623},{"s":"D","e":305.8,"i":615},{"s":"D","e":304.8,"i":621},{"s":"D","e":303.7,"i":623},{"s":"D","e":302.7,"i":619},{"s":"D","e":301.6,"i":612},{"s":"D","e":300.5,"i":610},{"s":"D","e":299.5,"i":614},{"s":"D","e":298.4,"i":610},{"s":"D","e":297.4,"i":599},{"s":"D","e":296.3,"i":598},{"s":"D","e":295.3,"i":592},{"s":"D","e":294.2,"i":587},{"s":"D","e":293.2,"i":583},{"s":"D","e":292.1,"i":578},{"s":"D","e":291.0,"i":573},{"s":"D","e":290.0,"i":569},{"s":"D","e":288.9,"i":565},{"s":"D","e":287.9,"i":571},{"s":"D","e":286.8,"i":576},{"s":"D","e":285.8,"i":582},{"s":"D","e":284.7,"i":598},{"s":"D","e":283.9,"i":633},{"s":"D","e":283.1,"i":705},{"s":"D","e":282.3,"i":794},{"s":"D","e":281.5,"i":883},{"s":"D","e":280.8,"i":937},{"s":"D","e":280.0,"i":983},{"s":"D","e":278.9,"i":1003},{"s":"D","e":278.1,"i":980},{"s":"D","e":277.3,"i":883},{"s":"D","e":276.5,"i":740},{"s":"D","e":275.7,"i":615},{"s":"D","e":274.9,"i":562},{"s":"D","e":274.2,"i":537},{"s":"D","e":273.1,"i":530},{"s":"D","e":272.0,"i":526},{"s":"D","e":271.0,"i":523},{"s":"D","e":269.9,"i":532},{"s":"D","e":268.9,"i":526},{"s":"D","e":267.8,"i":524},{"s":"D","e":266.8,"i":528},{"s":"D","e":265.7,"i":532},{"s":"D","e":264.7,"i":530},{"s":"D","e":263.6,"i":533},{"s":"D","e":262.5,"i":537},{"s":"D","e":261.5,"i":539},{"s":"D","e":260.4,"i":533},{"s":"D","e":259.4,"i":530},{"s":"D","e":258.3,"i":528},{"s":"D","e":257.3,"i":524},{"s":"D","e":256.2,"i":526},{"s":"D","e":255.2,"i":521},{"s":"D","e":254.1,"i":524},{"s":"D","e":253.0,"i":526},{"s":"D","e":252.0,"i":517},{"s":"D","e":250.9,"i":524},{"s":"D","e":249.9,"i":526},{"s":"D","e":248.8,"i":519},{"s":"D","e":247.8,"i":524},{"s":"D","e":246.7,"i":523},{"s":"D","e":245.6,"i":519},{"s":"D","e":244.6,"i":524},{"s":"D","e":243.5,"i":526},{"s":"D","e":242.5,"i":523},{"s":"D","e":241.4,"i":517},{"s":"D","e":240.4,"i":521},{"s":"D","e":239.3,"i":524},{"s":"D","e":238.3,"i":519},{"s":"D","e":237.2,"i":524},{"s":"D","e":236.1,"i":526},{"s":"D","e":235.1,"i":519},{"s":"D","e":234.0,"i":524},{"s":"D","e":233.0,"i":523},{"s":"D","e":231.9,"i":519},{"s":"D","e":230.9,"i":524},{"s":"D","e":229.8,"i":515},{"s":"D","e":228.7,"i":523},{"s":"D","e":227.7,"i":524},{"s":"D","e":226.6,"i":519},{"s":"D","e":225.6,"i":524},{"s":"D","e":224.5,"i":526},{"s":"D","e":223.5,"i":519},{"s":"D","e":222.4,"i":512},{"s":"D","e":221.4,"i":519},{"s":"D","e":220.3,"i":524},{"s":"D","e":219.2,"i":519},{"s":"D","e":218.2,"i":523},{"s":"D","e":217.1,"i":524},{"s":"D","e":216.1,"i":519},{"s":"D","e":215.0,"i":521},{"s":"D","e":214.0,"i":524},{"s":"D","e":212.9,"i":519},{"s":"D","e":211.9,"i":515},{"s":"D","e":210.8,"i":519},{"s":"D","e":209.7,"i":523},{"s":"D","e":208.7,"i":517},{"s":"D","e":207.6,"i":514},{"s":"D","e":206.6,"i":519},{"s":"D","e":205.5,"i":515},{"s":"D","e":204.4,"i":519},{"s":"D","e":203.4,"i":523},{"s":"D","e":202.4,"i":524},{"s":"D","e":201.3,"i":517},{"s":"D","e":200.2,"i":512},{"s":"D","e":199.2,"i":519},{"s":"D","e":198.1,"i":515},{"s":"D","e":197.1,"i":519},{"s":"D","e":196.0,"i":519},{"s":"D","e":195.0,"i":515},{"s":"D","e":193.9,"i":510},{"s":"D","e":192.6,"i":507},{"s":"D","e":191.3,"i":507},
{"s":"E","e":599.9,"i":298},{"s":"E","e":598.3,"i":294},{"s":"E","e":596.8,"i":303},{"s":"E","e":595.2,"i":293},{"s":"E","e":593.6,"i":288},{"s":"E","e":592.0,"i":283},{"s":"E","e":590.4,"i":279},{"s":"E","e":588.8,"i":284},{"s":"E","e":587.3,"i":281},{"s":"E","e":585.7,"i":276},{"s":"E","e":584.1,"i":289},{"s":"E","e":582.5,"i":279},{"s":"E","e":580.9,"i":273},{"s":"E","e":579.3,"i":283},{"s":"E","e":577.8,"i":286},{"s":"E","e":576.2,"i":271},{"s":"E","e":574.6,"i":271},{"s":"E","e":573.0,"i":271},{"s":"E","e":571.4,"i":264},{"s":"E","e":569.8,"i":259},{"s":"E","e":568.3,"i":258},{"s":"E","e":566.7,"i":256},{"s":"E","e":565.1,"i":253},{"s":"E","e":563.5,"i":254},{"s":"E","e":561.9,"i":249},{"s":"E","e":560.3,"i":251},{"s":"E","e":558.7,"i":248},{"s":"E","e":557.2,"i":253},{"s":"E","e":556.1,"i":248},{"s":"E","e":554.5,"i":249},{"s":"E","e":552.9,"i":254},{"s":"E","e":551.4,"i":248},{"s":"E","e":549.8,"i":243},{"s":"E","e":548.2,"i":236},{"s":"E","e":546.6,"i":229},{"s":"E","e":545.5,"i":219},{"s":"E","e":544.5,"i":213},{"s":"E","e":542.9,"i":214},{"s":"E","e":541.9,"i":209},{"s":"E","e":540.8,"i":199},{"s":"E","e":539.7,"i":191},{"s":"E","e":538.7,"i":189},{"s":"E","e":537.1,"i":188},{"s":"E","e":536.0,"i":188},{"s":"E","e":535.0,"i":184},{"s":"E","e":533.9,"i":181},{"s":"E","e":532.9,"i":196},{"s":"E","e":532.1,"i":253},{"s":"E","e":531.3,"i":336},{"s":"E","e":530.5,"i":413},{"s":"E","e":529.7,"i":449},{"s":"E","e":528.9,"i":454},{"s":"E","e":528.1,"i":439},{"s":"E","e":527.3,"i":369},{"s":"E","e":526.5,"i":253},{"s":"E","e":525.7,"i":166},{"s":"E","e":524.4,"i":156},{"s":"E","e":522.8,"i":153},{"s":"E","e":521.3,"i":148},{"s":"E","e":519.7,"i":144},{"s":"E","e":518.1,"i":143},{"s":"E","e":516.5,"i":149},{"s":"E","e":514.9,"i":156},{"s":"E","e":513.3,"i":149},{"s":"E","e":511.8,"i":133},{"s":"E","e":510.2,"i":134},{"s":"E","e":508.6,"i":138},{"s":"E","e":507.0,"i":138},{"s":"E","e":505.4,"i":134},{"s":"E","e":503.8,"i":129},{"s":"E","e":502.2,"i":133},{"s":"E","e":500.7,"i":136},{"s":"E","e":499.1,"i":133},{"s":"E","e":497.5,"i":129},{"s":"E","e":495.9,"i":131},{"s":"E","e":494.3,"i":128},{"s":"E","e":492.8,"i":126},{"s":"E","e":491.2,"i":128},{"s":"E","e":489.6,"i":124},{"s":"E","e":488.0,"i":123},{"s":"E","e":486.4,"i":126},{"s":"E","e":484.8,"i":124},{"s":"E","e":483.2,"i":123},{"s":"E","e":481.7,"i":124},{"s":"E","e":480.1,"i":121},{"s":"E","e":478.5,"i":116},{"s":"E","e":476.9,"i":118},{"s":"E","e":475.3,"i":119},{"s":"E","e":473.7,"i":118},{"s":"E","e":472.2,"i":116},{"s":"E","e":470.6,"i":116},{"s":"E","e":469.0,"i":113},{"s":"E","e":467.4,"i":116},{"s":"E","e":465.8,"i":114},{"s":"E","e":464.2,"i":111},{"s":"E","e":462.7,"i":114},{"s":"E","e":461.1,"i":116},{"s":"E","e":459.5,"i":118},{"s":"E","e":457.9,"i":113},{"s":"E","e":456.3,"i":126},{"s":"E","e":455.3,"i":121},{"s":"E","e":453.7,"i":111},{"s":"E","e":452.1,"i":114},{"s":"E","e":450.5,"i":109},{"s":"E","e":448.9,"i":106},{"s":"E","e":447.3,"i":111},{"s":"E","e":445.8,"i":113},{"s":"E","e":444.2,"i":106},{"s":"E","e":442.6,"i":111},{"s":"E","e":441.0,"i":109},{"s":"E","e":439.4,"i":106},{"s":"E","e":437.8,"i":109},{"s":"E","e":436.3,"i":111},{"s":"E","e":434.7,"i":114},{"s":"E","e":433.1,"i":113},{"s":"E","e":431.5,"i":111},{"s":"E","e":429.9,"i":114},{"s":"E","e":428.3,"i":113},{"s":"E","e":426.7,"i":109},{"s":"E","e":425.2,"i":114},{"s":"E","e":423.6,"i":116},{"s":"E","e":422.0,"i":119},{"s":"E","e":420.4,"i":113},{"s":"E","e":418.8,"i":116},{"s":"E","e":417.2,"i":111},{"s":"E","e":415.7,"i":114},{"s":"E","e":414.1,"i":111},{"s":"E","e":412.5,"i":113},{"s":"E","e":410.9,"i":109},{"s":"E","e":409.3,"i":111},{"s":"E","e":407.7,"i":108},{"s":"E","e":406.2,"i":106},{"s":"E","e":404.6,"i":109},{"s":"E","e":403.0,"i":106},{"s":"E","e":401.9,"i":109},{"s":"E","e":400.9,"i":113},{"s":"E","e":399.8,"i":116},{"s":"E","e":398.8,"i":133},{"s":"E","e":397.7,"i":153},{"s":"E","e":396.9,"i":166},{"s":"E","e":396.1,"i":161},{"s":"E","e":395.3,"i":136},{"s":"E","e":394.5,"i":116},{"s":"E","e":393.5,"i":108},{"s":"E","e":391.9,"i":108},{"s":"E","e":390.3,"i":106},{"s":"E","e":388.7,"i":109},{"s":"E","e":387.2,"i":106},{"s":"E","e":385.6,"i":103},{"s":"E","e":384.0,"i":109},{"s":"E","e":382.4,"i":108},{"s":"E","e":380.8,"i":109},{"s":"E","e":379.2,"i":104},{"s":"E","e":377.6,"i":108},{"s":"E","e":376.1,"i":109},{"s":"E","e":374.5,"i":111},{"s":"E","e":372.9,"i":113},{"s":"E","e":371.3,"i":116},{"s":"E","e":369.7,"i":118},{"s":"E","e":368.1,"i":113},{"s":"E","e":366.6,"i":116},{"s":"E","e":365.0,"i":119},{"s":"E","e":363.4,"i":114},{"s":"E","e":361.8,"i":116},{"s":"E","e":360.2,"i":118},{"s":"E","e":358.6,"i":114},{"s":"E","e":357.0,"i":118},{"s":"E","e":355.5,"i":116},{"s":"E","e":353.9,"i":119},{"s":"E","e":352.3,"i":121},{"s":"E","e":350.7,"i":123},{"s":"E","e":349.1,"i":116},{"s":"E","e":347.5,"i":123},{"s":"E","e":346.0,"i":121},{"s":"E","e":344.4,"i":126},{"s":"E","e":342.8,"i":121},{"s":"E","e":341.2,"i":124},{"s":"E","e":339.6,"i":121},{"s":"E","e":338.0,"i":126},{"s":"E","e":336.5,"i":123},{"s":"E","e":334.9,"i":124},{"s":"E","e":333.3,"i":126},{"s":"E","e":331.7,"i":128},{"s":"E","e":330.1,"i":133},{"s":"E","e":328.5,"i":126},{"s":"E","e":327.0,"i":123},{"s":"E","e":325.4,"i":131},{"s":"E","e":323.8,"i":128},{"s":"E","e":322.2,"i":124},{"s":"E","e":320.6,"i":131},{"s":"E","e":319.0,"i":129},{"s":"E","e":317.5,"i":133},{"s":"E","e":315.9,"i":131},{"s":"E","e":314.3,"i":128},{"s":"E","e":312.7,"i":124},{"s":"E","e":311.1,"i":133},{"s":"E","e":309.5,"i":136},{"s":"E","e":307.9,"i":134},{"s":"E","e":306.4,"i":138},{"s":"E","e":305.3,"i":141},{"s":"E","e":304.3,"i":136},{"s":"E","e":303.2,"i":133},{"s":"E","e":302.1,"i":126},{"s":"E","e":300.6,"i":121},{"s":"E","e":299.5,"i":116},{"s":"E","e":298.4,"i":109},{"s":"E","e":297.4,"i":106},{"s":"E","e":296.3,"i":99},{"s":"E","e":295.3,"i":94},{"s":"E","e":294.2,"i":89},{"s":"E","e":293.2,"i":86},{"s":"E","e":291.6,"i":83},{"s":"E","e":290.0,"i":81},{"s":"E","e":288.9,"i":84},{"s":"E","e":287.9,"i":89},{"s":"E","e":286.8,"i":96},{"s":"E","e":285.8,"i":113},{"s":"E","e":285.0,"i":153},{"s":"E","e":284.2,"i":219},{"s":"E","e":283.4,"i":319},{"s":"E","e":282.6,"i":403},{"s":"E","e":281.8,"i":459},{"s":"E","e":281.3,"i":473},{"s":"E","e":280.8,"i":463},{"s":"E","e":280.0,"i":386},{"s":"E","e":279.2,"i":253},{"s":"E","e":278.4,"i":119},{"s":"E","e":277.6,"i":63},{"s":"E","e":276.8,"i":53},{"s":"E","e":275.7,"i":51},{"s":"E","e":274.2,"i":49},{"s":"E","e":272.6,"i":51},{"s":"E","e":271.0,"i":48},{"s":"E","e":269.4,"i":46},{"s":"E","e":267.8,"i":43},{"s":"E","e":266.2,"i":46},{"s":"E","e":264.7,"i":44},{"s":"E","e":263.1,"i":43},{"s":"E","e":261.5,"i":44},{"s":"E","e":259.9,"i":43},{"s":"E","e":258.3,"i":44},{"s":"E","e":256.7,"i":46},{"s":"E","e":255.2,"i":43},{"s":"E","e":253.6,"i":44},{"s":"E","e":252.0,"i":41},{"s":"E","e":250.4,"i":43},{"s":"E","e":248.8,"i":44},{"s":"E","e":247.2,"i":46},{"s":"E","e":245.6,"i":41},{"s":"E","e":244.1,"i":43},{"s":"E","e":242.5,"i":39},{"s":"E","e":240.9,"i":41},{"s":"E","e":239.3,"i":43},{"s":"E","e":237.7,"i":41},{"s":"E","e":236.1,"i":44},{"s":"E","e":234.6,"i":46},{"s":"E","e":233.0,"i":43},{"s":"E","e":231.4,"i":41},{"s":"E","e":229.8,"i":39},{"s":"E","e":228.2,"i":41},{"s":"E","e":226.6,"i":38},{"s":"E","e":225.1,"i":43},{"s":"E","e":223.5,"i":41},{"s":"E","e":221.9,"i":44},{"s":"E","e":220.3,"i":41},{"s":"E","e":218.7,"i":43},{"s":"E","e":217.1,"i":39},{"s":"E","e":215.6,"i":43},{"s":"E","e":214.0,"i":38},{"s":"E","e":212.4,"i":39},{"s":"E","e":210.8,"i":38},{"s":"E","e":209.2,"i":39},{"s":"E","e":207.6,"i":36},{"s":"E","e":206.0,"i":38},{"s":"E","e":204.5,"i":34},{"s":"E","e":202.9,"i":38},{"s":"E","e":201.3,"i":36},{"s":"E","e":200.0,"i":38}
]},
"layer":[
{"data":{"name":"spectra"},
 "mark":{"type":"line","color":"black","strokeWidth":3.4,"clip":true},
 "encoding":{
  "x":{"field":"e","type":"quantitative","scale":{"domain":[601.3,190.9],"nice":false,"zero":false},
   "axis":{"values":[600,550,500,450,400,350,300,250,200],"title":"Binding Energy (eV)","titleFont":"Lato","titleFontSize":112,"titleFontWeight":"normal","titleColor":"black","titleX":937,"titleY":254,"titleAlign":"center","titleBaseline":"alphabetic","labelFont":"Lato","labelFontSize":52,"labelFontWeight":"bold","labelColor":"#595959","labelBaseline":"alphabetic","labelPadding":93,"labelFlush":false,"labelOverlap":false,"ticks":false,"tickSize":0,"grid":false,"domainColor":"#7f7f7f","domainWidth":3}},
  "y":{"field":"i","type":"quantitative","scale":{"domain":[-3,2757],"nice":false,"zero":false},
   "axis":{"title":"Intensity (counts/sec)","labels":false,"ticks":false,"domain":false,"grid":false,"titleFont":"Lato","titleFontSize":138,"titleFontWeight":"normal","titleColor":"black","titleAngle":-90,"titleX":-51,"titleY":1329,"titleAlign":"center","titleBaseline":"alphabetic"}},
  "detail":{"field":"s"}}},
{"data":{"name":"peaks"},
 "mark":{"type":"text","font":"Lato","fontSize":63,"align":"center","baseline":"alphabetic","color":"black"},
 "encoding":{"x":{"field":"e","type":"quantitative"},"y":{"field":"i","type":"quantitative"},"text":{"field":"t"}}},
{"data":{"name":"panels"},
 "mark":{"type":"text","font":"Lato","fontSize":112,"fontWeight":"bold","align":"center","baseline":"alphabetic","color":"black"},
 "encoding":{"x":{"field":"e","type":"quantitative"},"y":{"field":"i","type":"quantitative"},"text":{"field":"t"}}}
]
}
